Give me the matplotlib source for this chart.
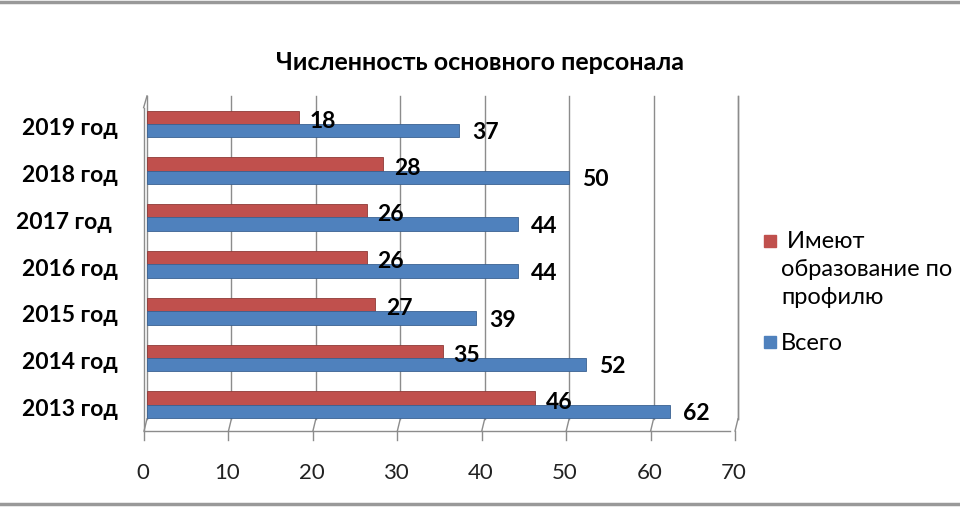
import numpy as np
import matplotlib
matplotlib.use("Agg")
import matplotlib.pyplot as plt
from matplotlib.patches import Rectangle

# данные
years = ["2019 год", "2018 год", "2017 год ", "2016 год", "2015 год", "2014 год", "2013 год"]
profil = [18, 28, 26, 26, 27, 35, 46]
vsego = [37, 50, 44, 44, 39, 52, 62]
xticks = [0, 10, 20, 30, 40, 50, 60, 70]

red = "#C0504D"
blue = "#4F81BD"
grid_col = "#8C8C8C"

plt.rcParams["font.family"] = ["Lato", "DejaVu Sans"]

W, H = 960, 510
fig = plt.figure(figsize=(9.6, 5.1), dpi=100)

# пиксели -> доли фигуры
x0, x1 = 147, 738
y_top, y_bot = 97, 430
ax = fig.add_axes([x0 / W, 1 - y_bot / H, (x1 - x0) / W, (y_bot - y_top) / H])
ax.set_xlim(0, 70)
ax.set_ylim(6.517, -0.598)

y = np.arange(len(years))
h = 0.29
off = 0.14
ax.barh(y - off, profil, height=h, color=red, edgecolor="#8E3A37", linewidth=0.6, zorder=3)
ax.barh(y + off, vsego, height=h, color=blue, edgecolor="#3A6191", linewidth=0.6, zorder=3)

for i in range(len(years)):
    ax.text(profil[i] + 1.3, y[i] - 0.08, str(profil[i]), fontsize=16.5, fontweight="bold",
            va="center", ha="left", zorder=4)
    ax.text(vsego[i] + 1.5, y[i] + 0.17, str(vsego[i]), fontsize=16.5, fontweight="bold",
            va="center", ha="left", zorder=4)
    ax.text(-3.5, y[i] + 0.08, years[i], fontsize=16.5, fontweight="bold",
            va="center", ha="right")

# сетка на задней стенке
wall_bot = 6.3
floor = 6.56
for t in xticks:
    ax.plot([t, t], [-0.598, wall_bot], color=grid_col, lw=1.0, zorder=1, clip_on=False)

for s in ax.spines.values():
    s.set_visible(False)
ax.set_xticks([])
ax.set_yticks([])

# «пол» и передняя ось
ax.plot([-0.4, 69.0], [floor, floor], color=grid_col, lw=1.0, clip_on=False)
for t in xticks:
    ax.plot([t - 0.35, t], [floor, wall_bot], color=grid_col, lw=1.0, clip_on=False)
    ax.plot([t - 0.35, t - 0.35], [floor, floor + 0.2], color=grid_col, lw=1.0, clip_on=False)
    ax.text(t - 0.5, 7.44, str(t), fontsize=16, ha="center", va="center", color="#222222")
ax.plot([-0.4, -0.4], [-0.35, floor], color=grid_col, lw=1.0, clip_on=False)
ax.plot([-0.4, 0], [-0.35, -0.6], color=grid_col, lw=1.0, clip_on=False)
ax.plot([70, 70], [-0.598, wall_bot], color=grid_col, lw=1.0, clip_on=False)

fig.text(480 / W, 1 - 62 / H, "Численность основного персонала", fontsize=18,
         fontweight="bold", ha="center", va="center")

# легенда
fig.patches.append(Rectangle((764 / W, 1 - 248 / H), 12 / W, 12 / H, color=red,
                             transform=fig.transFigure, figure=fig))
fig.text(781 / W, 1 - 242 / H, " Имеют", fontsize=17, va="center", ha="left")
fig.text(781 / W, 1 - 269 / H, "образование по", fontsize=17, va="center", ha="left")
fig.text(781 / W, 1 - 297 / H, "профилю", fontsize=17, va="center", ha="left")
fig.patches.append(Rectangle((764 / W, 1 - 349 / H), 12 / W, 12 / H, color=blue,
                             transform=fig.transFigure, figure=fig))
fig.text(781 / W, 1 - 343 / H, "Всего", fontsize=17, va="center", ha="left")

# рамка
fig.add_artist(plt.Line2D([0, 1], [1 - 3 / H, 1 - 3 / H], color="#999999", lw=2.5,
                          transform=fig.transFigure))
fig.add_artist(plt.Line2D([0, 1], [1 - 505 / H, 1 - 505 / H], color="#999999", lw=2.5,
                          transform=fig.transFigure))

fig.savefig("out.png", dpi=100)
